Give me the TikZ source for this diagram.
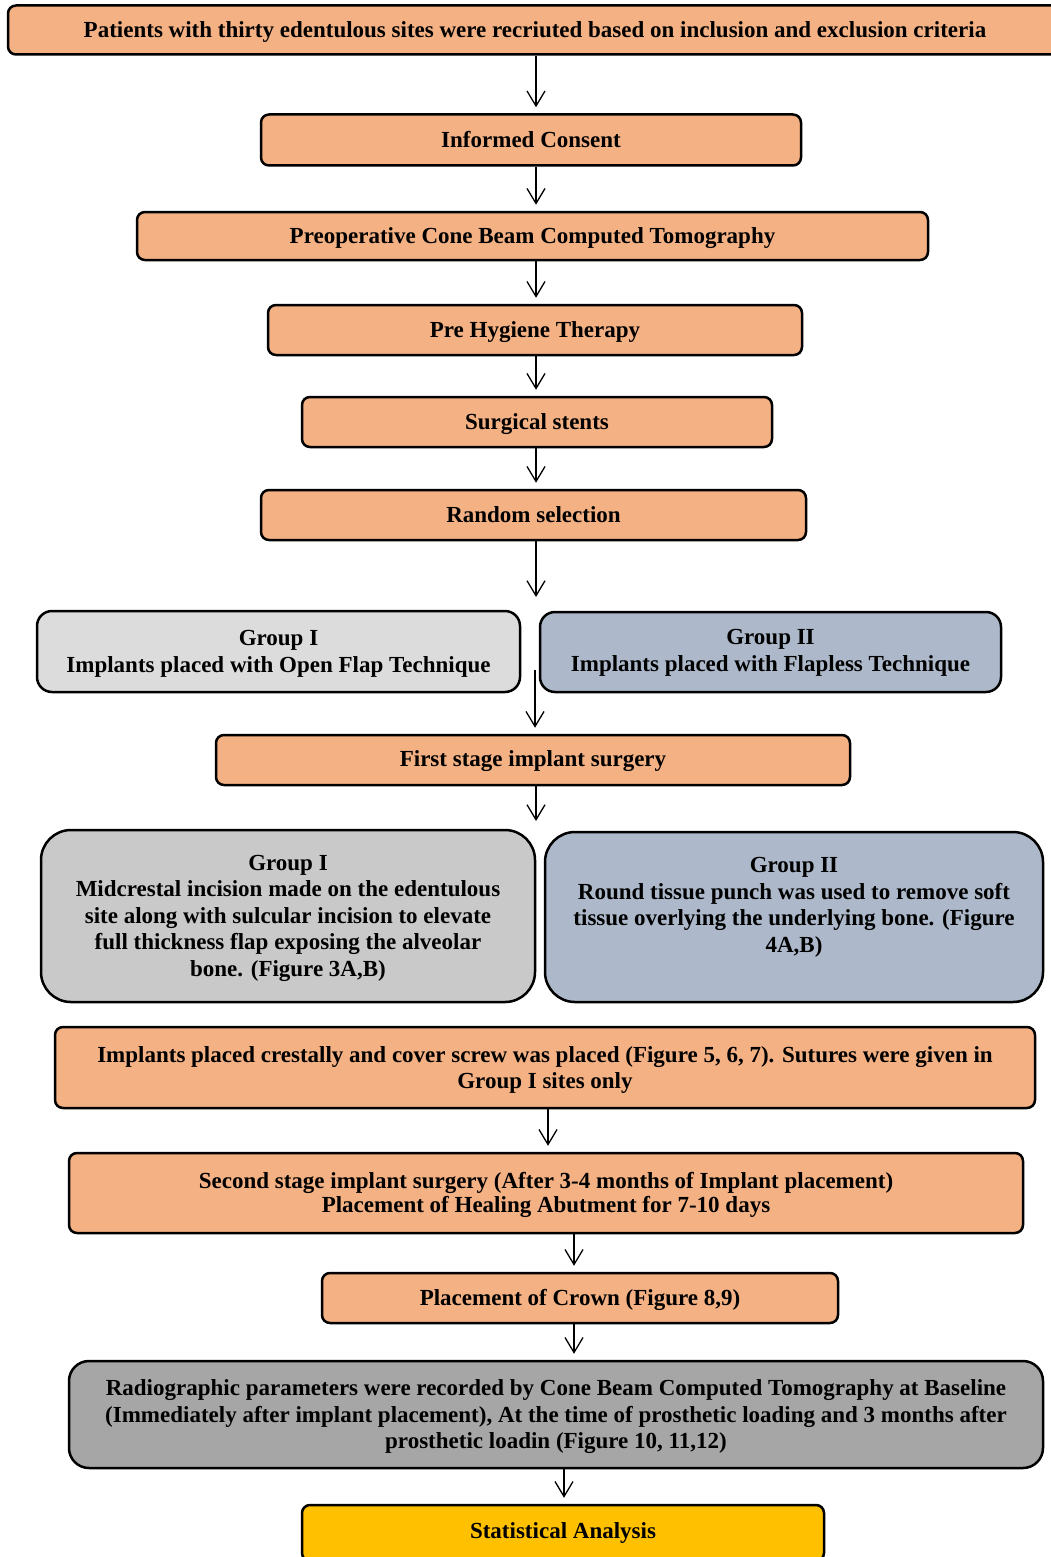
\documentclass[tikz,border=0pt]{standalone}
\usepackage{fontspec}
\setmainfont{Liberation Serif}
\usetikzlibrary{arrows.meta}
\definecolor{peach}{HTML}{F4B183}
\definecolor{lgray}{HTML}{DCDCDC}
\definecolor{mgray}{HTML}{C9C9C9}
\definecolor{dgray}{HTML}{A6A6A6}
\definecolor{bgray}{HTML}{ADB9CA}
\definecolor{gold}{HTML}{FFC000}
\begin{document}
\begin{tikzpicture}[x=1pt,y=-1pt,
  box/.style={draw=black, line width=2.5pt, rounded corners=8pt, fill=peach,
    align=center, font=\bfseries\fontsize{23}{26.5}\selectfont, inner sep=0pt},
  arr/.style={line width=1.3pt, -{Straight Barb[length=15pt,width=18pt,line width=1.3pt]}, shorten >=6pt},
  freearr/.style={line width=1.3pt, -{Straight Barb[length=15pt,width=18pt,line width=1.3pt]}}]
\useasboundingbox (0,0) rectangle (1051,1557);
\fill[white] (0,0) rectangle (1051,1557);

\node[box, minimum width=1054pt, minimum height=49pt, text depth=-1pt] (top) at (535,30) {Patients with thirty edentulous sites were recriuted based on inclusion and exclusion criteria};
\node[box, minimum width=540pt, minimum height=51pt] (inf) at (531,140) {Informed Consent};
\node[box, minimum width=791pt, minimum height=48pt, text depth=-5pt] (cbct) at (532.5,236) {Preoperative Cone Beam Computed Tomography};
\node[box, minimum width=534pt, minimum height=50pt, text depth=1pt] (hyg) at (535,330) {Pre Hygiene Therapy};
\node[box, minimum width=470pt, minimum height=50pt, text depth=-3pt] (stent) at (537,422) {Surgical stents};
\node[box, minimum width=545pt, minimum height=50pt] (rand) at (533.5,515) {Random selection};
\node[box, fill=lgray, rounded corners=15pt, minimum width=483pt, minimum height=81pt, text depth=-1pt] (g1) at (278.5,651.5) {Group I\\Implants placed with Open Flap Technique};
\node[box, fill=bgray, rounded corners=15pt, minimum width=461pt, minimum height=80pt, text depth=3pt] (g2) at (770.5,652) {Group II\\Implants placed with Flapless Technique};
\node[box, minimum width=634pt, minimum height=50pt, text depth=3pt] (first) at (533,760) {First stage implant surgery};
\node[box, fill=mgray, rounded corners=30pt, minimum width=494pt, minimum height=172pt, text depth=1pt] (g1b) at (288,916) {Group I\\Midcrestal incision made on the edentulous\\site along with sulcular incision to elevate\\full thickness flap exposing the alveolar\\bone. (Figure 3A,B)};
\node[box, fill=bgray, rounded corners=30pt, minimum width=498pt, minimum height=170pt, text depth=24pt] (g2b) at (794,917) {Group II\\Round tissue punch was used to remove soft\\tissue overlying the underlying bone. (Figure\\4A,B)};
\node[box, minimum width=980pt, minimum height=81pt, text depth=0pt] (impl) at (545,1067.5) {Implants placed crestally and cover screw was placed (Figure 5, 6, 7). Sutures were given in\\Group I sites only};
\node[box, minimum width=954pt, minimum height=80pt, font=\bfseries\fontsize{23}{24}\selectfont, text depth=1pt] (second) at (546,1193) {Second stage implant surgery (After 3-4 months of Implant placement)\\Placement of Healing Abutment for 7-10 days};
\node[box, minimum width=516pt, minimum height=50pt, text depth=1pt] (crown) at (580,1298) {Placement of Crown (Figure 8,9)};
\node[box, fill=dgray, rounded corners=20pt, minimum width=974pt, minimum height=107pt, text depth=-8pt] (radio) at (556,1414.5) {Radiographic parameters were recorded by Cone Beam Computed Tomography at Baseline\\(Immediately after implant placement), At the time of prosthetic loading and 3 months after\\prosthetic loadin (Figure 10, 11,12)};
\node[box, fill=gold, minimum width=522pt, minimum height=56pt] (stat) at (563,1533) {Statistical Analysis};

\coordinate (x536) at (536,0);
\coordinate (x548) at (548,0);
\coordinate (x574) at (574,0);
\coordinate (x564) at (564,0);
\coordinate (e1) at (536,597);
\coordinate (s2) at (535,670);
\coordinate (e3) at (536,821);

\draw[arr] (top.south -| x536) -- (inf.north -| x536);
\draw[arr] (inf.south -| x536) -- (cbct.north -| x536);
\draw[arr] (cbct.south -| x536) -- (hyg.north -| x536);
\draw[arr] (hyg.south -| x536) -- (stent.north -| x536);
\draw[arr] (stent.south -| x536) -- (rand.north -| x536);
\draw[freearr] (rand.south -| e1) -- (e1);
\draw[arr] (s2) -- (first.north -| s2);
\draw[freearr] (first.south -| e3) -- (e3);
\draw[arr] (impl.south -| x548) -- (second.north -| x548);
\draw[arr] (second.south -| x574) -- (crown.north -| x574);
\draw[arr] (crown.south -| x574) -- (radio.north -| x574);
\draw[arr] (radio.south -| x564) -- (stat.north -| x564);
\end{tikzpicture}
\end{document}
